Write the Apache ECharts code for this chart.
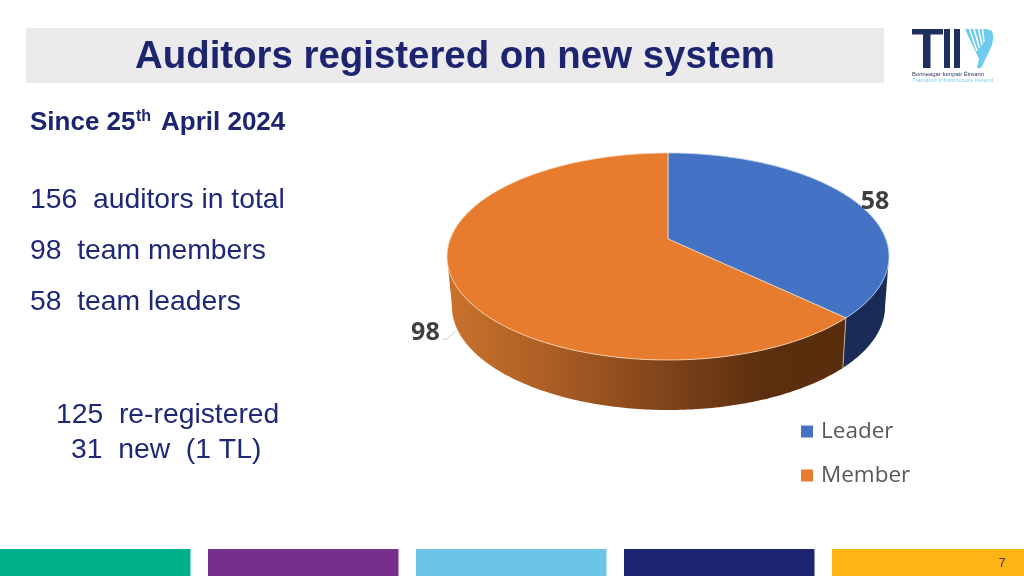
<!DOCTYPE html>
<html><head><meta charset="utf-8">
<style>html,body{margin:0;padding:0;background:#fff}#c{width:1024px;height:576px}</style>
<script src="https://cdn.jsdelivr.net/npm/echarts@6/dist/echarts.min.js"></script>
</head><body><div id="c"></div>
<script>
const categories = ['Leader', 'Member'];
const values = [58, 98];
const pieColors = ['#4472c4', '#e77c2e'];
const summaryLines = ['156  auditors in total', '98  team members', '58  team leaders'];
const noteLines = ['125  re-registered', '31  new  (1 TL)'];
const footerColors = ['#00b08a', '#752f8a', '#6cc5e9', '#1d2570', '#fdb515'];

const total = values.reduce((a, b) => a + b, 0);
const NAVY = '#1d2570', BODY = '#1f2877';

// perspective projection of a unit disc on to the tilted pie
const TILT = 0.169;
function topPt(t) {
  const x = Math.sin(t), y = -Math.cos(t), w = 1 - TILT * y;
  return [668 + 217.8 * x / w, (239 + 60.16 * y) / w];
}
function lowPt(t) {
  const p = topPt(t);
  return [668.5 + 0.98 * (p[0] - 668), p[1] + 50];
}
function arc(fn, a, b) {
  const out = [], n = 160;
  for (let i = 0; i <= n; i++) out.push(fn(a + (b - a) * i / n));
  return out;
}
// the wall is only seen between the two side extremes of the disc
const wallFrom = Math.acos(-TILT), wallTo = 2 * Math.PI - wallFrom;
const wallFills = [
  '#1a2b55',
  { type: 'linear', x: 0, y: 0, x2: 1, y2: 0, colorStops: [
    { offset: 0, color: '#c9722c' }, { offset: 0.25, color: '#ad5f25' },
    { offset: 0.55, color: '#7f431a' }, { offset: 0.8, color: '#5b2e0e' }, { offset: 1, color: '#5a2d0c' } ] }
];
const labelOffsets = [[19, 0], [-28, 52]];

function renderSlice(idx) {
  return function () {
    const before = values.slice(0, idx).reduce((a, b) => a + b, 0);
    const a = before / total * 2 * Math.PI;
    const b = (before + values[idx]) / total * 2 * Math.PI;
    const wa = Math.max(a, wallFrom), wb = Math.min(b, wallTo);
    const wallTop = arc(topPt, wa, wb), wallLow = arc(lowPt, wa, wb);
    const topArc = arc(topPt, a, b);
    const mid = topPt((a + b) / 2), off = labelOffsets[idx];
    const children = [
      { type: 'polygon', z2: 1, shape: { points: wallTop.concat(wallLow.slice().reverse()) },
        style: { fill: wallFills[idx] } },
      { type: 'polygon', z2: 10, shape: { points: [[668, 239]].concat(topArc) },
        style: { fill: pieColors[idx], stroke: idx ? '#f6d9bd' : '#c3d0ea', lineWidth: 0.8 } },
      { type: 'text', z2: 20, style: { text: String(values[idx]), x: mid[0] + off[0], y: mid[1] + off[1],
        align: 'center', verticalAlign: 'middle', fill: '#404040',
        font: 'bold 25px "Open Sans"' } }
    ];
    if (idx === 1) {
      const c = lowPt(a), d = topPt(a);
      children.push({ type: 'line', z2: 5, shape: { x1: d[0], y1: d[1], x2: c[0], y2: c[1] },
        style: { stroke: '#d9c7b5', lineWidth: 0.8 } });
      children.push({ type: 'polyline', z2: 5, shape: { points: [[443, 339], [447, 339], [458, 329]] },
        style: { stroke: '#bdbdbd', lineWidth: 0.8, fill: 'none' } });
    }
    return { type: 'group', children };
  };
}

function label(text, x, y, font, fill, align) {
  return { type: 'text', x, y, style: { text, font, fill, textAlign: align || 'left', textVerticalAlign: 'middle' } };
}
const boxes = footerColors.map((c, i) => ({
  type: 'rect', shape: { x: i * 208 , y: 549, width: i === 4 ? 192 : 190.5, height: 27 }, style: { fill: c } }));

const string = (x1, y1, x2, y2) => ({ type: 'line', shape: { x1, y1, x2, y2 }, style: { stroke: '#fff', lineWidth: 1.5 } });
const logo = [
  { type: 'rect', shape: { x: 912, y: 29, width: 31, height: 5.5 }, style: { fill: '#1f2f5f' } },
  { type: 'rect', shape: { x: 923, y: 29, width: 7.5, height: 39 }, style: { fill: '#1f2f5f' } },
  { type: 'rect', shape: { x: 944, y: 29, width: 6, height: 39 }, style: { fill: '#1f2f5f' } },
  { type: 'rect', shape: { x: 954, y: 29, width: 6, height: 39 }, style: { fill: '#1f2f5f' } },
  { type: 'polygon', shape: { points: [[965,29],[987,29],[992,31],[993.5,37],[992,45],[987,56],[981,68],[977,68],[979,59]] }, style: { fill: '#6ccbee' } },
  string(969.5, 29, 977, 51), string(974, 29, 979.5, 48), string(978.5, 29, 982, 45), string(982.5, 29, 984, 42),
  label('Bonneagar Iompair Éireann', 912, 74, '5.9px "Liberation Sans"', '#2b3a60'),
  label('Transport Infrastructure Ireland', 912, 80, '5.9px "Liberation Sans"', '#7fd0ee')
];

const option = {
  animation: false,
  backgroundColor: '#fff',
  legend: {
    orient: 'vertical', left: 796, top: 415, itemWidth: 12, itemHeight: 12, itemGap: 21, icon: 'rect',
    data: categories, selectedMode: false,
    textStyle: { color: '#595959', fontFamily: 'Open Sans', fontSize: 22.5, padding: [0, 0, 0, 3] }
  },
  graphic: { elements: [
    { type: 'rect', shape: { x: 26, y: 28, width: 858, height: 55 }, style: { fill: '#ebebeb' } },
    label('Auditors registered on new system', 135, 57, 'bold 38.4px "Liberation Sans"', NAVY),
    label('Since 25', 30, 123, 'bold 26px "Liberation Sans"', NAVY),
    label('th', 136, 117, 'bold 16px "Liberation Sans"', NAVY),
    label('April 2024', 161, 123, 'bold 26px "Liberation Sans"', NAVY),
    ...summaryLines.map((t, i) => label(t, 30, 200 + i * 51, '28.3px "Liberation Sans"', BODY)),
    label(noteLines[0], 56, 415, '28.3px "Liberation Sans"', BODY),
    label(noteLines[1], 71, 450, '28.3px "Liberation Sans"', BODY),
    ...boxes,
    label('7', 1002, 564, '12px "Liberation Sans"', '#333', 'center'),
    ...logo
  ] },
  series: categories.map((name, i) => ({
    type: 'custom', name, coordinateSystem: 'none', silent: true,
    itemStyle: { color: pieColors[i] }, data: [[values[i]]], renderItem: renderSlice(i)
  }))
};
echarts.init(document.getElementById('c')).setOption(option);
</script></body></html>
